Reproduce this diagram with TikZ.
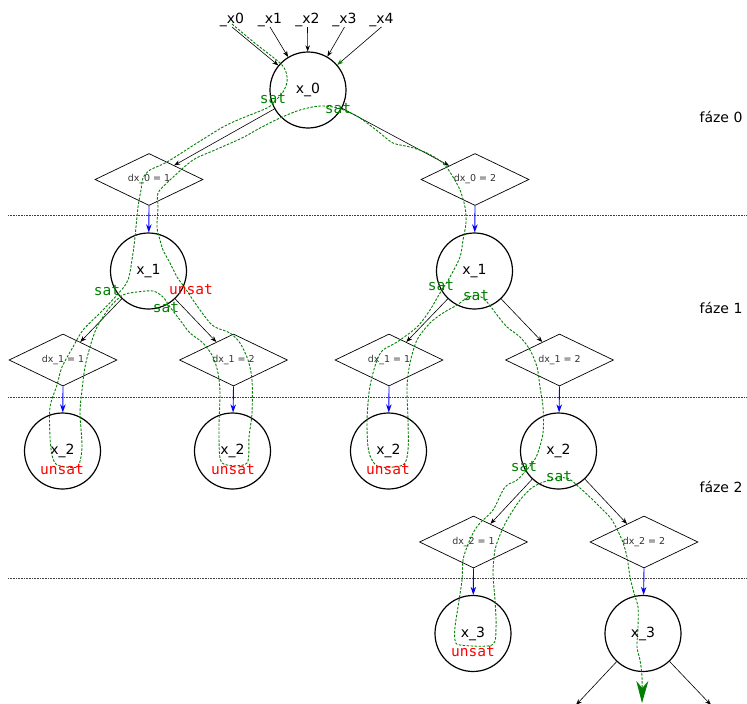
\documentclass[tikz,border=0pt]{standalone}
\usepackage{fontspec}
\setmainfont{DejaVu Sans}
\newfontfamily\monofnt{DejaVu Sans Mono}
\usetikzlibrary{shapes.geometric,arrows.meta}
\definecolor{pathgreen}{RGB}{0,128,0}
\begin{document}
\begin{tikzpicture}[x=1pt,y=-1pt,
 circ/.style={circle,draw,line width=1.2pt,minimum size=76pt,inner sep=0,font=\fontsize{14}{16}\selectfont},
 dia/.style={diamond,draw,line width=0.7pt,minimum width=108pt,minimum height=52pt,inner sep=0,font=\fontsize{9.5}{11}\selectfont,text=black!80},
 lbl/.style={font=\fontsize{14}{16}\selectfont,inner sep=0},
 satlbl/.style={font=\monofnt\fontsize{14.5}{16}\selectfont,text=pathgreen,inner sep=0},
 unsatlbl/.style={font=\monofnt\fontsize{14.5}{16}\selectfont,text=red,inner sep=0},
 arr/.style={-{Stealth[length=6pt,width=4.5pt]},line width=0.6pt},
 barr/.style={-{Stealth[length=8pt,width=5.5pt,inset=2.5pt]},draw=blue,line width=0.9pt},
 sepline/.style={line width=0.6pt,dash pattern=on 0.8pt off 0.8pt,black!75},
 trace/.style={pathgreen,line width=0.9pt,dash pattern=on 2.5pt off 1.5pt}
]
\useasboundingbox (0,0) rectangle (747,704);
\clip (0,0) rectangle (747,704);

% separators
\coordinate (s0l) at (8,215); \coordinate (s0r) at (747,215);
\coordinate (s1l) at (8,397); \coordinate (s1r) at (747,397);
\coordinate (s2l) at (8,578); \coordinate (s2r) at (747,578);
\draw[sepline] (s0l) -- (s0r);
\draw[sepline] (s1l) -- (s1r);
\draw[sepline] (s2l) -- (s2r);

% phase labels
\node[lbl] (f0) at (721,117) {fáze 0};
\node[lbl] (f1) at (721,308) {fáze 1};
\node[lbl] (f2) at (721,487) {fáze 2};

% nodes
\node[circ] (x0) at (308,90) {x\_0};
\node[lbl] (i0) at (232,20) {\_x0};
\node[lbl] (i1) at (270,20) {\_x1};
\node[lbl] (i2) at (307.5,20) {\_x2};
\node[lbl] (i3) at (344.5,20) {\_x3};
\node[lbl] (i4) at (381.5,20) {\_x4};

\node[dia] (d01) at (149,179.5) {dx\_0 = 1};
\node[dia] (d02) at (475,179.5) {dx\_0 = 2};

\node[circ] (x1a) at (148.5,271) {x\_1};
\node[circ] (x1b) at (474.5,271) {x\_1};

\node[dia] (d11a) at (63,360) {dx\_1 = 1};
\node[dia] (d12a) at (233.5,360) {dx\_1 = 2};
\node[dia] (d11b) at (389,360) {dx\_1 = 1};
\node[dia] (d12b) at (559.5,360) {dx\_1 = 2};

\node[circ] (x2a) at (62.5,451) {x\_2};
\node[circ] (x2b) at (232.5,451) {x\_2};
\node[circ] (x2c) at (388.5,451) {x\_2};
\node[circ] (x2d) at (558.5,451) {x\_2};

\node[dia] (d21) at (473.5,542) {dx\_2 = 1};
\node[dia] (d22) at (644,542) {dx\_2 = 2};

\node[circ] (x3a) at (473,633.5) {x\_3};
\node[circ] (x3b) at (643,633.5) {x\_3};

\coordinate (o1) at (576,705);
\coordinate (o2) at (711,705);

% input arrows
\draw[arr] (i0.south) -- (x0);
\draw[arr] (i1.south) -- (x0);
\draw[arr] (i2.south) -- (x0);
\draw[arr] (i3.south) -- (x0);
\draw[-{Stealth[length=6pt,width=4.5pt,color=pathgreen]},line width=0.6pt] (i4.south) -- (x0);

% tree arrows
\draw[arr] (x0) -- (d01);
\draw[arr] (x0) -- (d02);
\draw[barr] (d01.south) -- (x1a);
\draw[barr] (d02.south) -- (x1b);
\draw[arr] (x1a) -- (d11a);
\draw[arr] (x1a) -- (d12a);
\draw[arr] (x1b) -- (d11b);
\draw[arr] (x1b) -- (d12b);
\draw[barr] (d11a.south) -- (x2a);
\draw[barr] (d12a.south) -- (x2b);
\draw[barr] (d11b.south) -- (x2c);
\draw[barr] (d12b.south) -- (x2d);
\draw[arr] (x2d) -- (d21);
\draw[arr] (x2d) -- (d22);
\draw[barr] (d21.south) -- (x3a);
\draw[barr] (d22.south) -- (x3b);
\draw[arr] (x3b) -- (o1);
\draw[arr] (x3b) -- (o2);

% trace
\draw[trace,-{Stealth[length=22pt,width=12pt,inset=7pt]}] plot[smooth,tension=0.5] coordinates {
(232,24) (256,44) (280,63) (286,72) (287,82) (283,92) (275,101) (267,108) (240,119) (223,127) (197,143) (167,162) (150,170) (143,178) (141,190) (138,207) (135,237) (133,253) (128,280) (117,295) (100,313) (83,330) (73,347) (62,367) (57,385) (50,407) (50,437) (52,455) (56,464) (66,467) (78,466) (82,447) (80,413) (82,390) (85,367) (90,347) (97,327) (110,307) (123,295) (137,292) (153,291) (163,297) (170,307) (180,320) (190,333) (203,343) (213,357) (218,373) (220,393) (219,427) (220,458) (227,465) (247,463) (249,437) (252,413) (252,380) (248,360) (240,343) (230,333) (217,328) (210,323) (200,310) (193,300) (185,288) (177,277) (170,263) (163,250) (160,240) (157,227) (158,207) (158,193) (170,180) (193,160) (215,150) (242,138) (260,128) (280,118) (300,110) (320,106) (338,108) (355,115) (367,123) (380,133) (393,143) (410,147) (427,153) (443,163) (453,177) (460,190) (465,207) (466,223) (463,240) (460,257) (450,277) (440,293) (430,310) (417,327) (397,342) (383,350) (377,360) (372,377) (369,393) (367,420) (368,447) (372,460) (380,467) (403,465) (408,450) (408,420) (407,387) (410,363) (417,340) (430,323) (443,313) (457,305) (467,298) (477,295) (487,302) (497,315) (507,327) (520,337) (530,350) (537,367) (540,387) (543,407) (543,433) (537,455) (530,466) (517,480) (505,487) (493,510) (480,523) (473,533) (467,547) (463,560) (462,580) (458,607) (455,627) (455,640) (460,645) (492,645) (496,627) (495,600) (493,573) (495,550) (500,535) (507,520) (520,500) (533,487) (550,480) (567,478) (580,488) (593,500) (603,510) (612,520) (622,540) (627,557) (630,577) (634,593) (638,607) (638,627) (637,647) (640,660) (642,677) (642,703)};

% sat / unsat labels
\node[satlbl] (l0a) at (273,99) {sat};
\node[satlbl] (l0b) at (338,109) {sat};
\node[satlbl] (l1a) at (107,291) {sat};
\node[unsatlbl] (l1b) at (191,290) {unsat};
\node[satlbl] (l1c) at (166,308) {sat};
\node[unsatlbl] (l2a) at (62,470) {unsat};
\node[unsatlbl] (l2b) at (233,470) {unsat};
\node[satlbl] (l1d) at (441,286) {sat};
\node[satlbl] (l1e) at (476,296) {sat};
\node[unsatlbl] (l2c) at (388,470) {unsat};
\node[satlbl] (l2d) at (524,467) {sat};
\node[satlbl] (l2e) at (559,477) {sat};
\node[unsatlbl] (l3a) at (473,652) {unsat};
\end{tikzpicture}
\end{document}
